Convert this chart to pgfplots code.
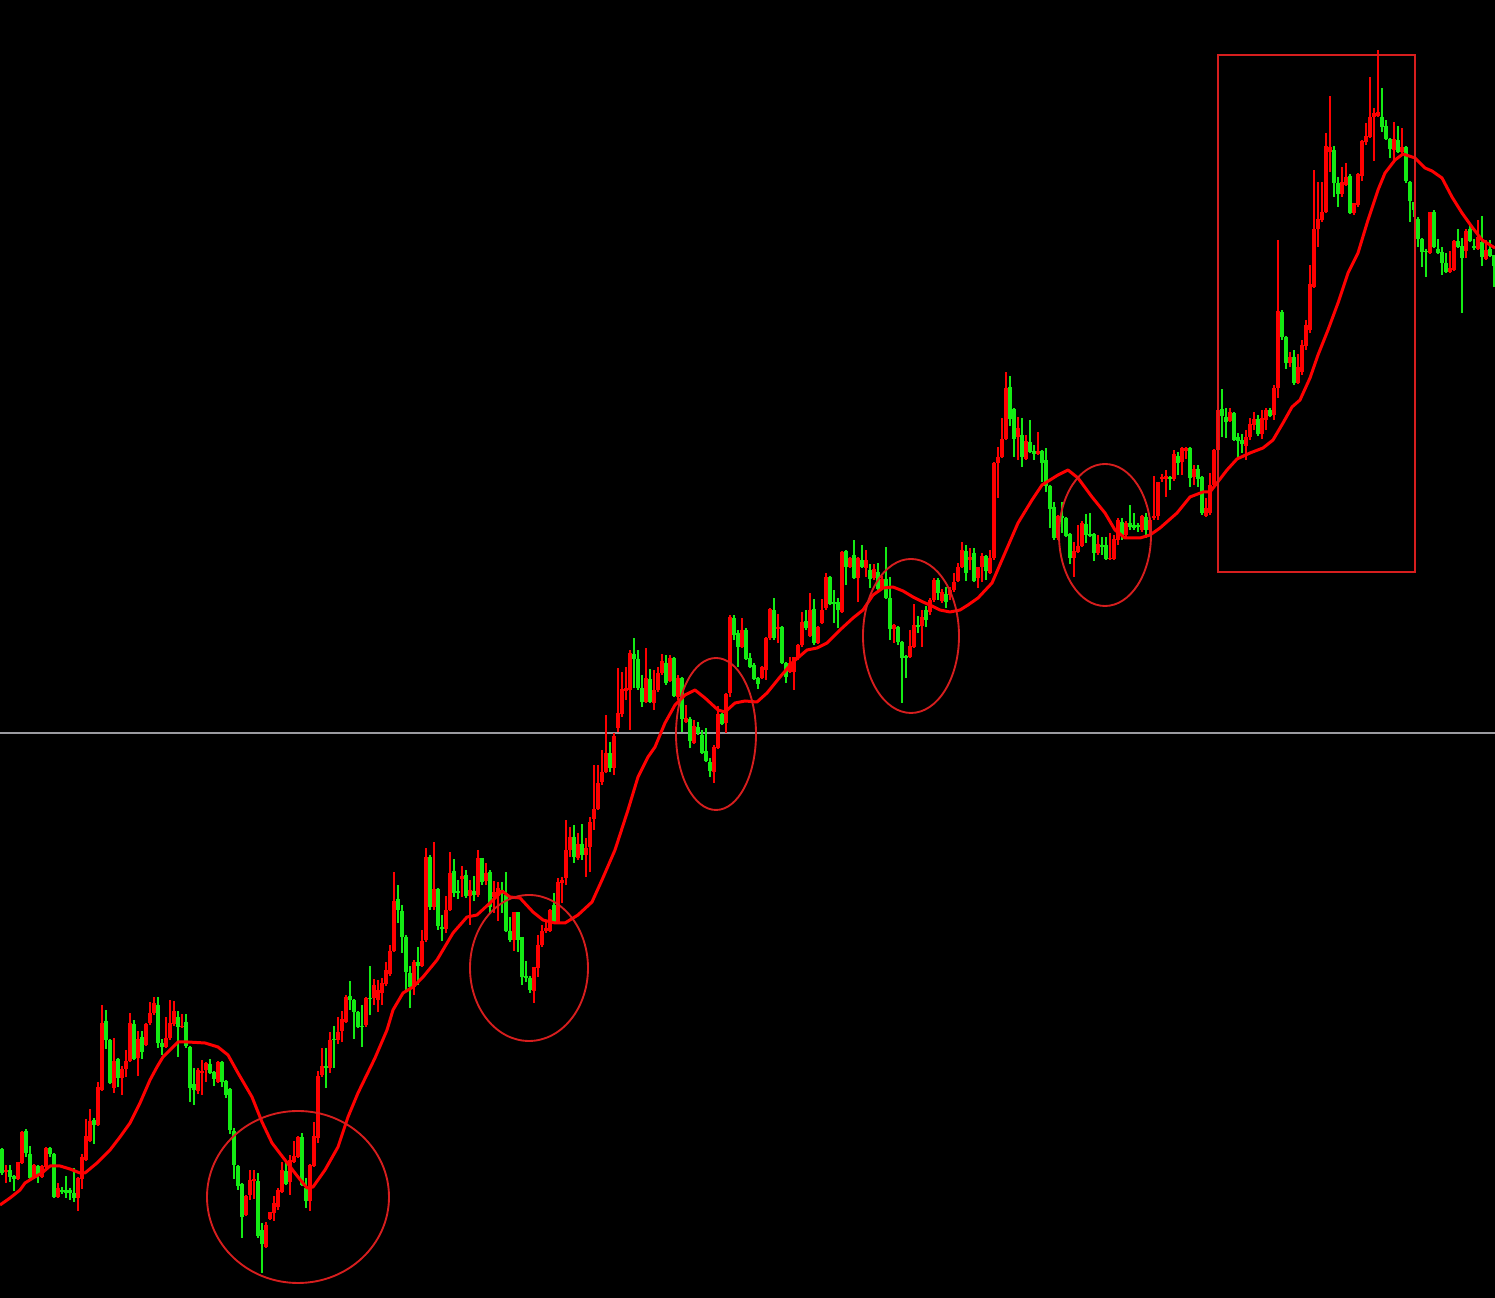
\documentclass[border=0pt]{standalone}
\usepackage{pgfplots}
\usepackage{pgfplotstable}
\pgfplotsset{compat=1.18}

\definecolor{candleup}{RGB}{255,0,0}
\definecolor{candledown}{RGB}{20,235,20}
\definecolor{maline}{RGB}{255,0,0}
\definecolor{ring}{RGB}{215,30,30}
\definecolor{refline}{RGB}{155,155,160}

% OHLC candles: x, open, high, low, close
\pgfplotstableread{
x o h l c
2 149 150 123 125
6 126 133 115 128
10 128 133 116 121
14 122 123 107 119
18 119 136 118 136
22 135 167 134 166
26 167 169 141 145
30 144 152 119 120
34 120 134 119 133
38 132 133 115 123
42 121 133 120 132
46 131 151 130 150
50 150 151 141 144
54 144 145 100 101
58 101 115 100 110
62 108 111 104 106
66 108 122 100 105
70 108 110 98 105
74 105 130 96 100
78 100 121 87 120
82 119 144 109 141
86 138 179 137 162
90 157 189 156 177
94 178 180 154 173
98 173 216 172 211
102 208 293 207 275
106 277 288 249 258
110 258 259 214 215
114 210 260 205 237
118 239 240 211 220
122 220 232 203 229
126 229 248 221 237
130 237 285 236 275
134 274 278 238 239
138 240 267 222 259
142 261 267 239 246
146 253 275 252 274
150 275 296 273 285
154 285 301 283 295
158 293 301 250 255
162 255 259 243 251
166 251 281 250 260
170 260 298 258 275
174 274 297 272 287
178 281 287 241 271
182 271 284 270 272
186 276 284 250 252
190 251 252 196 210
194 214 230 193 208
198 207 230 204 228
202 225 238 203 227
206 228 236 216 235
210 234 239 224 225
214 226 227 212 219
218 216 237 215 236
222 236 237 211 216
226 217 218 200 203
230 209 210 164 168
234 167 170 119 133
238 132 133 108 112
242 114 115 60 81
246 83 103 82 102
250 103 128 98 118
254 117 128 99 119
258 117 125 60 62
262 68 75 25 54
266 51 76 50 73
270 79 86 78 86
274 85 102 77 95
278 91 110 88 108
282 106 136 105 128
286 127 138 113 114
290 116 143 103 138
294 136 157 135 142
298 141 162 140 161
302 161 165 112 113
306 110 120 90 97
310 97 134 87 133
314 132 176 131 162
318 160 227 155 222
322 223 250 221 232
326 232 250 210 230
330 230 266 225 258
334 259 272 230 258
338 258 281 254 266
342 267 287 256 279
346 276 303 275 301
350 302 317 288 298
354 298 299 259 286
358 286 287 270 271
362 272 293 251 271
366 273 301 271 300
370 300 332 283 299
374 300 319 293 313
378 298 318 286 308
382 305 320 293 315
386 314 336 312 328
390 324 353 322 347
394 347 426 346 397
398 399 413 375 388
402 387 393 345 361
406 361 363 308 326
410 325 332 290 311
414 311 338 303 336
418 336 351 313 332
422 332 368 331 357
426 358 450 356 441
430 441 443 388 391
434 391 456 388 409
438 409 410 368 372
442 371 383 357 369
446 369 402 365 388
450 388 446 387 425
454 427 439 401 405
458 407 418 399 405
462 419 432 401 422
466 423 428 400 402
470 402 418 373 408
474 407 422 397 403
478 403 448 401 440
482 440 440 413 416
486 417 435 413 425
490 426 428 385 391
494 401 417 385 406
498 402 416 377 410
502 408 416 385 405
506 403 426 366 367
510 367 381 356 358
514 358 386 347 386
518 386 386 346 358
522 361 361 313 321
526 322 337 316 320
530 320 322 305 308
534 307 331 295 331
538 330 363 321 353
542 353 373 351 367
546 367 378 365 370
550 367 389 366 388
554 393 405 374 376
558 376 420 375 416
562 415 421 395 418
566 420 478 413 448
570 448 471 441 461
574 461 473 435 441
578 440 465 438 454
582 454 474 438 443
586 443 460 421 450
590 451 481 426 476
594 479 533 468 489
598 489 533 488 515
602 516 548 513 526
606 526 583 525 545
610 545 556 526 530
614 530 565 523 562
618 570 630 566 585
622 584 626 581 609
626 607 631 598 610
630 608 648 568 645
634 644 660 610 639
638 639 648 608 610
642 610 623 591 596
646 596 650 595 620
650 619 629 595 596
654 595 628 588 608
658 608 631 606 625
662 625 644 623 637
666 635 643 613 615
670 617 643 616 640
674 640 641 601 602
678 601 623 598 620
682 620 621 566 579
686 576 593 575 580
690 579 581 550 557
694 555 578 554 572
698 571 576 563 565
702 563 568 544 545
706 547 570 536 537
710 536 540 521 527
714 526 553 515 551
718 550 592 549 584
722 584 585 573 574
726 575 605 565 604
730 605 683 601 681
734 680 683 658 663
738 665 668 631 651
742 651 680 650 668
746 668 670 638 639
750 640 645 630 631
754 633 635 618 619
758 620 621 609 614
762 620 632 619 631
766 628 661 618 660
770 660 690 658 689
774 688 700 658 660
778 669 684 655 671
782 671 672 634 635
786 635 636 615 621
790 626 641 625 635
794 626 641 608 641
798 640 654 638 653
802 653 686 651 676
806 677 688 668 670
810 662 705 661 688
814 689 699 653 655
818 655 672 654 671
822 675 699 674 688
826 690 725 688 721
830 721 722 693 694
834 696 708 675 694
838 696 700 670 688
842 686 747 685 746
846 747 748 713 731
850 731 741 730 740
854 743 758 719 720
858 720 741 696 740
862 738 753 730 731
866 730 748 721 738
870 728 734 710 719
874 720 734 718 729
878 726 735 708 709
882 709 722 708 719
886 719 751 699 700
890 700 721 658 669
894 669 674 655 673
898 671 672 653 656
902 656 657 595 640
906 642 643 620 640
910 641 668 640 652
914 651 694 650 673
918 673 682 665 671
922 672 688 651 681
926 688 692 671 678
930 686 700 683 698
934 698 720 696 718
938 718 720 698 705
942 697 709 695 706
946 704 711 690 696
950 703 711 698 708
954 708 725 706 716
958 717 735 716 731
962 731 756 730 748
966 747 753 717 725
970 738 750 728 741
974 745 750 716 717
978 720 731 710 731
982 731 745 716 742
986 742 743 718 727
990 725 748 724 740
994 740 836 738 835
998 835 851 800 841
1002 841 880 840 859
1006 859 926 858 910
1010 911 922 872 879
1014 889 890 841 859
1018 861 881 838 870
1022 863 880 831 841
1026 839 863 838 857
1030 856 878 845 846
1034 847 853 838 844
1038 844 866 843 847
1042 847 848 816 835
1046 838 850 806 812
1050 812 813 770 789
1054 791 796 758 760
1058 760 783 758 782
1062 782 796 765 780
1066 780 781 761 762
1070 764 765 734 740
1074 740 756 721 747
1078 746 773 745 752
1082 752 777 751 775
1086 774 784 755 763
1090 764 785 761 762
1094 764 765 737 745
1098 745 763 743 754
1102 753 761 743 751
1106 753 761 738 739
1110 739 765 738 740
1114 739 763 738 759
1118 758 780 753 778
1122 776 780 758 763
1126 763 777 760 775
1130 775 793 768 771
1134 773 785 768 770
1138 773 775 766 771
1142 768 783 766 782
1146 781 785 760 768
1150 768 780 763 778
1154 780 822 778 782
1158 782 816 778 816
1162 819 824 816 821
1166 819 828 801 822
1170 821 822 808 819
1174 819 848 817 844
1178 842 846 823 835
1182 836 851 823 850
1186 847 851 839 850
1190 850 851 811 820
1194 821 833 813 829
1198 829 833 811 819
1202 821 822 783 785
1206 782 800 781 790
1210 785 825 783 813
1214 813 849 811 848
1218 848 893 846 888
1222 889 909 861 882
1226 881 890 860 876
1230 877 890 876 886
1234 885 886 857 858
1238 861 865 841 857
1242 858 864 845 854
1246 852 868 838 861
1250 861 880 858 874
1254 873 886 868 879
1258 879 883 862 864
1262 864 888 859 880
1266 878 890 868 888
1270 888 890 881 882
1274 883 913 878 910
1278 910 1058 900 987
1282 986 988 958 961
1286 961 962 929 935
1290 935 946 931 941
1294 941 948 913 915
1298 915 944 914 931
1302 926 958 923 953
1306 952 978 948 973
1310 968 1033 965 1014
1314 1011 1128 1010 1069
1318 1069 1116 1051 1079
1322 1078 1116 1076 1086
1326 1086 1165 1085 1152
1330 1146 1202 1126 1151
1334 1148 1152 1101 1115
1338 1115 1121 1091 1104
1342 1104 1131 1101 1116
1346 1113 1135 1112 1121
1350 1122 1124 1084 1085
1354 1085 1095 1083 1095
1358 1093 1125 1091 1124
1362 1122 1158 1117 1157
1366 1156 1175 1153 1162
1370 1161 1221 1160 1181
1374 1181 1190 1137 1185
1378 1182 1248 1181 1186
1382 1181 1210 1166 1171
1386 1172 1178 1158 1159
1390 1159 1160 1140 1149
1394 1148 1176 1138 1159
1398 1158 1172 1145 1146
1402 1146 1170 1145 1151
1406 1151 1152 1115 1117
1410 1116 1117 1076 1097
1414 1096 1096 1081 1088
1418 1079 1081 1051 1059
1422 1059 1060 1031 1046
1426 1047 1049 1021 1046
1430 1045 1086 1044 1086
1434 1086 1088 1050 1051
1438 1049 1059 1044 1045
1442 1046 1051 1023 1035
1446 1035 1045 1025 1026
1450 1026 1047 1025 1030
1454 1028 1058 1027 1057
1458 1057 1069 1050 1051
1462 1052 1060 985 1040
1466 1047 1069 1040 1067
1470 1069 1073 1056 1057
1474 1052 1059 1048 1050
1478 1049 1078 1048 1061
1482 1056 1082 1032 1041
1486 1039 1058 1038 1048
1490 1049 1058 1041 1042
1494 1043 1043 1011 1032
}\candles

\pgfplotsset{
  % rising candles (close >= open) and falling candles (close < open)
  rising only/.style={restrict expr to domain={\thisrow{c}-\thisrow{o}}{0:100000}},
  falling only/.style={restrict expr to domain={\thisrow{c}-\thisrow{o}}{-100000:-0.5}},
  % vertical segment of given width around each point, no line and no marker
  stick/.style 2 args={draw=none, no marks, forget plot,
    /pgfplots/error bars/y dir=both,
    /pgfplots/error bars/y explicit,
    /pgfplots/error bars/error mark=none,
    /pgfplots/error bars/error bar style={line width=#2, draw=#1, line cap=butt}},
}

\begin{document}
\begin{tikzpicture}
\begin{axis}[
  x=0.4pt, y=0.4pt,
  xmin=0, xmax=1495, ymin=0, ymax=1298,
  ticks=none,
  axis line style={draw=none},
  axis background/.style={fill=black},
  clip=true,
]
% horizontal reference level
\addplot[refline, line width=0.45pt, forget plot] coordinates {(0,565) (1495,565)};

% wicks
\addplot[rising only, stick={candleup}{0.42pt}] table[x=x,
  y expr={(\thisrow{h}+\thisrow{l})/2},
  y error expr={(\thisrow{h}-\thisrow{l})/2}] {\candles};
\addplot[falling only, stick={candledown}{0.42pt}] table[x=x,
  y expr={(\thisrow{h}+\thisrow{l})/2},
  y error expr={(\thisrow{h}-\thisrow{l})/2}] {\candles};
% bodies
\addplot[rising only, stick={candleup}{1.3pt}] table[x=x,
  y expr={(\thisrow{o}+\thisrow{c})/2},
  y error expr={max(abs(\thisrow{c}-\thisrow{o})/2,0.6)}] {\candles};
\addplot[falling only, stick={candledown}{1.3pt}] table[x=x,
  y expr={(\thisrow{o}+\thisrow{c})/2},
  y error expr={max(abs(\thisrow{c}-\thisrow{o})/2,0.6)}] {\candles};

% moving average
\addplot[maline, line width=1.2pt, line join=round] coordinates {
(0,93) (10,100) (20,108) (25,115) (33,120) (42,125) (50,132) (60,132)
(70,129) (80,125) (85,125) (97,135) (110,148) (120,161) (130,175) (140,195)
(150,218) (157,231) (163,241) (173,251) (178,256) (188,256) (205,255) (218,251)
(228,243) (238,225) (252,201) (262,176) (272,155) (285,138) (298,121) (307,110)
(313,111) (325,128) (338,151) (348,181) (358,205) (375,240) (387,268) (393,288)
(403,305) (413,311) (423,321) (437,338) (453,365) (467,381) (477,383) (490,395)
(502,407) (510,401) (520,400) (533,386) (543,378) (555,375) (565,375) (578,383)
(592,396) (602,418) (615,448) (628,488) (638,521) (648,541) (655,551) (665,575)
(675,593) (685,603) (695,608) (705,600) (718,588) (725,586) (735,595) (745,597)
(757,596) (767,605) (780,621) (793,636) (807,648) (817,650) (827,655) (840,668)
(853,680) (863,688) (873,703) (883,710) (893,711) (903,707) (913,701) (923,696)
(932,692) (940,688) (950,686) (960,688) (968,693) (978,700) (992,715) (1005,745)
(1018,775) (1032,798) (1042,813) (1058,823) (1068,828) (1078,820) (1092,801) (1105,785)
(1115,768) (1125,760) (1140,760) (1150,763) (1160,770) (1177,785) (1190,801) (1203,806)
(1210,806) (1217,815) (1227,828) (1237,839) (1250,845) (1263,850) (1273,858) (1283,875)
(1292,891) (1300,898) (1310,920) (1318,943) (1328,968) (1338,995) (1348,1025) (1358,1045)
(1368,1078) (1378,1108) (1385,1125) (1395,1138) (1403,1144) (1415,1140) (1425,1130) (1432,1127)
(1442,1120) (1452,1101) (1462,1085) (1472,1071) (1482,1058) (1495,1050)
};

% highlighted zones
\draw[ring, line width=0.75pt] (axis cs:298,101) ellipse [x radius=36.4pt, y radius=34.4pt];
\draw[ring, line width=0.75pt] (axis cs:529,330) ellipse [x radius=23.6pt, y radius=29.2pt];
\draw[ring, line width=0.75pt] (axis cs:716,564) ellipse [x radius=16pt, y radius=30.4pt];
\draw[ring, line width=0.75pt] (axis cs:911,662) ellipse [x radius=19.2pt, y radius=30.8pt];
\draw[ring, line width=0.75pt] (axis cs:1105,763) ellipse [x radius=18.4pt, y radius=28.4pt];
\draw[ring, line width=0.8pt] (axis cs:1218,726) rectangle (axis cs:1415,1243);
\end{axis}
\end{tikzpicture}
\end{document}
